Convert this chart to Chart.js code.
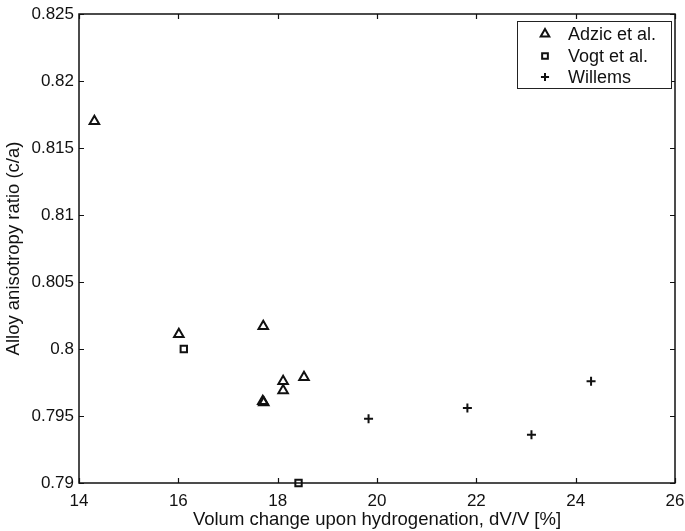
<!DOCTYPE html>
<html><head><meta charset="utf-8">
<script src="https://cdn.jsdelivr.net/npm/chart.js@4/dist/chart.umd.min.js"></script>
<style>html,body{margin:0;padding:0;background:#fff}#wrap{width:685px;height:531px}</style>
</head><body><div id="wrap"><canvas id="c" width="685" height="531"></canvas></div>
<script>
const adzicX = [14.31, 16.01, 17.71, 18.11, 18.11, 18.53, 17.70, 17.72];
const adzicY = [0.8170, 0.8011, 0.8017, 0.7976, 0.7969, 0.7979, 0.7961, 0.7960];
const vogtX = [16.11, 18.42];
const vogtY = [0.8000, 0.7900];
const willemsX = [19.83, 21.82, 23.11, 24.31];
const willemsY = [0.7948, 0.7956, 0.7936, 0.7976];
const seriesLabels = ['Adzic et al.', 'Vogt et al.', 'Willems'];
const xTitle = 'Volum change upon hydrogenation, dV/V [%]';
const yTitle = 'Alloy anisotropy ratio (c/a)';

const toPts = (xs, ys) => xs.map((x, i) => ({x: x, y: ys[i]}));
const FONT = '"Liberation Sans", Arial, Helvetica, sans-serif';

const frame = {
  id: 'frame',
  afterDatasetsDraw(chart) {
    const {ctx, chartArea: a, scales} = chart;
    ctx.save();
    ctx.strokeStyle = '#111';
    ctx.lineWidth = 1.5;
    ctx.strokeRect(a.left, a.top, a.right - a.left, a.bottom - a.top);
    const L = 5;
    ctx.beginPath();
    scales.x.ticks.forEach(t => {
      const px = Math.round(scales.x.getPixelForValue(t.value)) + 0.5;
      ctx.moveTo(px, a.bottom); ctx.lineTo(px, a.bottom - L);
      ctx.moveTo(px, a.top); ctx.lineTo(px, a.top + L);
    });
    scales.y.ticks.forEach(t => {
      const py = Math.round(scales.y.getPixelForValue(t.value)) + 0.5;
      ctx.moveTo(a.left, py); ctx.lineTo(a.left + L, py);
      ctx.moveTo(a.right, py); ctx.lineTo(a.right - L, py);
    });
    ctx.lineWidth = 1.2;
    ctx.stroke();
    // legend box
    const bx = 517, by = 21, bw = 154, bh = 67;
    ctx.fillStyle = '#fff';
    ctx.fillRect(bx, by, bw, bh);
    ctx.lineWidth = 1;
    ctx.strokeStyle = '#222';
    ctx.strokeRect(bx + 0.5, by + 0.5, bw, bh);
    ctx.font = '18px ' + FONT;
    ctx.textBaseline = 'middle';
    ctx.textAlign = 'left';
    const rows = [34, 56, 77];
    chart.data.datasets.forEach((ds, i) => {
      ctx.strokeStyle = '#111';
      ctx.fillStyle = 'rgba(0,0,0,0)';
      ctx.lineWidth = ds.borderWidth;
      Chart.helpers.drawPoint(ctx, {
        pointStyle: ds.pointStyle, radius: ds.pointRadius * 0.9, borderWidth: ds.borderWidth
      }, 545, rows[i]);
      ctx.fillStyle = '#111';
      ctx.fillText(ds.label, 568, rows[i] + 1);
    });
    ctx.restore();
  }
};

new Chart(document.getElementById('c'), {
  type: 'scatter',
  data: {
    datasets: [
      {label: seriesLabels[0], data: toPts(adzicX, adzicY), pointStyle: 'triangle', pointRadius: 5.5,
       borderColor: '#111', backgroundColor: 'rgba(0,0,0,0)', borderWidth: 2, clip: false},
      {label: seriesLabels[1], data: toPts(vogtX, vogtY), pointStyle: 'rect', pointRadius: 4.5,
       borderColor: '#111', backgroundColor: 'rgba(0,0,0,0)', borderWidth: 2, clip: false},
      {label: seriesLabels[2], data: toPts(willemsX, willemsY), pointStyle: 'cross', pointRadius: 4.5,
       borderColor: '#111', backgroundColor: '#111', borderWidth: 2, clip: false}
    ]
  },
  options: {
    responsive: false,
    animation: false,
    devicePixelRatio: 1,
    layout: {padding: {top: 14, right: 0, left: 3, bottom: 0}},
    plugins: {legend: {display: false}, tooltip: {enabled: false}},
    scales: {
      x: {
        type: 'linear', min: 14, max: 26,
        ticks: {stepSize: 2, color: '#111', font: {family: FONT, size: 17}, padding: 8,
                callback: v => String(v), maxRotation: 0},
        grid: {display: false, drawTicks: false},
        border: {display: false},
        title: {display: true, text: xTitle, color: '#111', font: {family: FONT, size: 18.5}, padding: {top: 0, bottom: 0}},
        afterFit(s) { s.height = 48; s.paddingRight = 10; s.paddingLeft = 0; }
      },
      y: {
        type: 'linear', min: 0.79, max: 0.825,
        ticks: {stepSize: 0.005, color: '#111', font: {family: FONT, size: 17}, padding: 5,
                callback: v => String(+v.toFixed(3))},
        grid: {display: false, drawTicks: false},
        border: {display: false},
        title: {display: true, text: yTitle, color: '#111', font: {family: FONT, size: 18.5}, padding: {top: 0, bottom: 0}},
        afterFit(s) { s.width = 76; s.paddingTop = 0; s.paddingBottom = 0; }
      }
    }
  },
  plugins: [frame]
});
</script></body></html>
